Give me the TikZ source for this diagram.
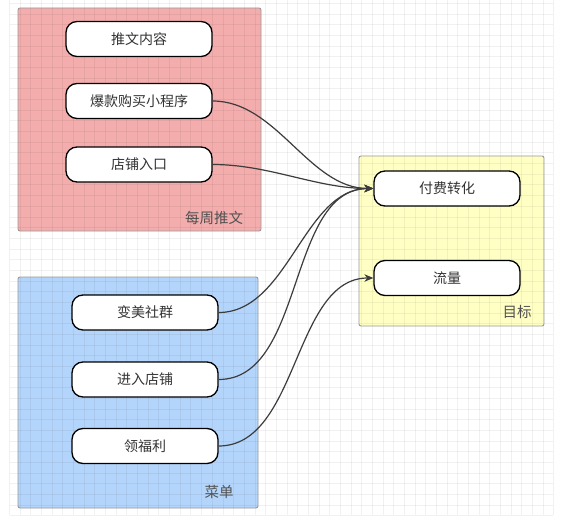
\documentclass[tikz,border=0pt]{standalone}
\usepackage{fontspec}
\newfontfamily\cjk{Noto Sans CJK SC}
\usetikzlibrary{arrows.meta}
\definecolor{txt}{HTML}{333333}
\definecolor{redfill}{HTML}{F4ADAD}
\definecolor{bluefill}{HTML}{B4D5FB}
\definecolor{yelfill}{HTML}{FFFFC4}
\definecolor{grpline}{HTML}{9A9A9A}
\definecolor{edgec}{HTML}{3C3C3C}
\tikzset{
  pill/.style={draw=black, line width=1.3pt, fill=white, rounded corners=11pt,
    minimum width=146pt, minimum height=35pt, inner sep=0pt,
    font=\cjk\fontsize{14}{16}\selectfont, text=txt},
  grp/.style={draw=grpline, line width=0.9pt, rounded corners=2pt},
  grplabel/.style={font=\cjk\fontsize{14.5}{16}\selectfont, text=txt!85!white, inner sep=0pt},
  conn/.style={draw=edgec, line width=1.2pt, -{Stealth[length=9pt,width=7.5pt]},
    out=0, in=180, looseness=0.9},
}
\begin{document}
\begin{tikzpicture}[x=1pt,y=-1pt]
\useasboundingbox (0,0) rectangle (565,532);
\fill[white] (0,0) rectangle (565,532);
% groups
\fill[redfill, rounded corners=2pt] (18,8) rectangle (261,231);
\fill[bluefill, rounded corners=2pt] (18,277) rectangle (258,508);
\fill[yelfill, rounded corners=2pt] (359,156) rectangle (544,326);
% grid
\foreach \i in {0,...,51} {
  \draw[black, opacity=0.055, line width=0.8pt] ({9.5+\i*10.67},0) -- ({9.5+\i*10.67},515);
}
\foreach \j in {0,...,48} {
  \draw[black, opacity=0.055, line width=0.8pt] (9.5,{3.5+\j*10.67}) -- (553,{3.5+\j*10.67});
}
\draw[grp] (18,8) rectangle (261,231);
\draw[grp] (18,277) rectangle (258,508);
\draw[grp] (359,156) rectangle (544,326);
\node[grplabel] (lr) at (214,218) {每周推文};
\node[grplabel] (lb) at (219,492) {菜单};
\node[grplabel] (ly) at (517,312) {目标};
% nodes
\node[pill] (n1) at (139,39) {推文内容};
\node[pill] (n2) at (139,101) {爆款购买小程序};
\node[pill] (n3) at (139,164.5) {店铺入口};
\node[pill] (m1) at (145,312.5) {变美社群};
\node[pill] (m2) at (145,379.5) {进入店铺};
\node[pill] (m3) at (145,446) {领福利};
\node[pill] (t1) at (447,188.5) {付费转化};
\node[pill] (t2) at (447,278) {流量};
% connectors
\draw[conn] (n2.east) to (t1.west);
\draw[conn] (n3.east) to (t1.west);
\draw[conn] (m1.east) to (t1.west);
\draw[conn] (m2.east) to (t1.west);
\draw[conn] (m3.east) to (t2.west);
\end{tikzpicture}
\end{document}
